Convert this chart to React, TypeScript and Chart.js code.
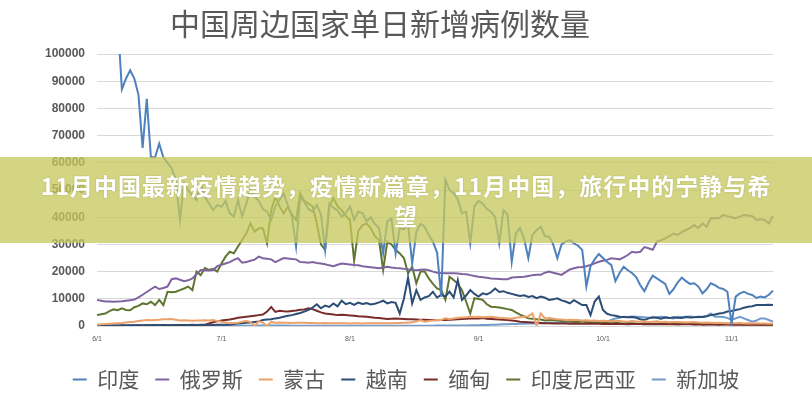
import React, { useEffect, useRef } from "react";
import { Chart, registerables } from "chart.js";

Chart.register(...registerables);

const TITLE = "中国周边国家单日新增病例数量";
const BANNER_LINE1 = "11月中国最新疫情趋势，疫情新篇章，11月中国，旅行中的宁静与希";
const BANNER_LINE2 = "望";

const MONTHS = [6, 7, 8, 9, 10, 11];
const MONTH_DAYS = [30, 31, 31, 30, 31, 11];

const Y_MIN = 0;
const Y_MAX = 100000;
const Y_STEP = 10000;

const SERIES_NAMES = ["印度", "俄罗斯", "蒙古", "越南", "缅甸", "印度尼西亚", "新加坡"];
const SERIES_COLORS = ["#4f81bd", "#8064a2", "#eba26c", "#2c4d75", "#772c2a", "#5f7530", "#729aca"];

const INDIA = [
  128000, 132000, 134000, 120000, 114000, 112000, 87000, 91000, 94000, 91000,
  85000, 65500, 83500, 62000, 62000, 67000, 62000, 60000, 58000, 54000,
  39000, 52500, 50000, 48000, 46300, 52500, 47500, 45000, 42600, 44500,
  43800, 46000, 41500, 40200, 46300, 40200, 45000, 50000, 47500, 46000,
  43000, 42000, 39000, 44000, 46300, 48800, 44500, 40200, 29200, 47500,
  45500, 43000, 42000, 44500, 41000, 28000, 45000, 43500, 42500, 40200,
  41500, 44000, 39000, 42000, 41500, 38500, 40000, 37500, 36000, 26700,
  38500, 39500, 26700, 36000, 35500, 37500, 23000, 34500, 37500, 36500,
  33500, 31000, 27000, 10800, 53700, 50000, 48800, 46500, 41400, 42000,
  30400, 44000, 46000, 45000, 43000, 42000, 40000, 30400, 42600, 41000,
  23600, 34000, 36000, 32000, 24900, 33500, 35300, 36500, 33000, 32900,
  30000, 24900, 30000, 31000, 31600, 30400, 29500, 28000, 14500, 22000,
  24500, 26500, 25000, 23500, 22500, 16500, 19500, 21800, 20500, 19500,
  18000, 15000, 12800, 16000, 18500, 17500, 16500, 15500, 11800, 13500,
  16000, 17800, 16500, 15500, 15700, 14500, 12000, 13500, 15700, 15000,
  14000, 13600, 12600, 800, 10800, 12000, 12600, 11800, 11400, 10300,
  10800, 10500, 11500, 13000,
];

const RUSSIA = [
  9600, 9300, 9000, 9000, 8900, 9000, 9100, 9300, 9500, 9700,
  10500, 11500, 12500, 13500, 14500, 13600, 14000, 14500, 17200, 17500,
  17000, 16500, 16800, 17500, 19000, 20600, 20500, 20400, 20600, 22000,
  22500, 23000, 23500, 24300, 24900, 23300, 23500, 24000, 24400, 25500,
  24900, 24700, 24500, 23500, 24200, 25000, 24800, 24600, 24500, 23500,
  23400, 23300, 23500, 23200, 23000, 22700, 22300, 22000, 22500, 23000,
  22800, 22600, 22400, 22300, 22000, 21800, 21600, 21400, 21200, 21500,
  21800, 21500, 21300, 21200, 21000, 20800, 20600, 20500, 20700, 20800,
  20500, 20000, 19600, 19500, 19400, 19400, 19400, 19300, 19100, 19000,
  18700, 18400, 18100, 17900, 17700, 17500, 17400, 17300, 17200, 17200,
  17800, 17900, 18000, 18100, 18400, 18700, 18800, 18800, 19600, 20000,
  19600, 19200, 18800, 19800, 20800, 21200, 21600, 21700, 22000, 22400,
  23000, 23600, 24000, 24300, 24900, 24700, 24500, 25200, 26100, 27300,
  27000, 27300, 29000, 28600, 28000, 31000, 31500, 32200, 33000, 34000,
  33500, 34500, 35300, 36000, 37100, 36000, 37700, 36500, 39600, 39600,
  39700, 40800, 40400, 40000, 39600, 40200, 40800, 40600, 40400, 39000,
  39200, 39000, 37700, 40400,
];

const MONGOLIA = [
  500, 600, 700, 800, 900, 1000, 1100, 1300, 1500, 1600,
  1800, 2000, 2200, 2100, 2200, 2300, 2500, 2500, 2600, 2300,
  2000, 2100, 2000, 1900, 2000, 2000, 2100, 2000, 2200, 1800,
  1600, 1300, 1000, 1100, 1200, 1600, 1800, 1500, 0, 1800,
  1200, 0, 1500, 1200, 1300, 1200, 1200, 1100, 1200, 1200,
  1200, 1100, 1100, 1000, 1000, 1100, 1000, 1000, 1000, 1000,
  1000, 950, 1000, 1000, 950, 1000, 1000, 1000, 1050, 1000,
  1000, 1000, 1100, 1100, 1200, 1200, 1400, 1600, 2200, 1600,
  1800, 2000, 2200, 2200, 2800, 2600, 2800, 3000, 3100, 3200,
  3400, 3300, 3400, 3200, 3300, 3400, 3200, 3000, 2900, 2800,
  2800, 3000, 3200, 3400, 3600, 4600, 0, 4600, 2800, 2900,
  2700, 2500, 2400, 2200, 2300, 2200, 2200, 2000, 2100, 1900,
  2000, 1800, 1900, 1800, 1700, 1900, 1800, 1700, 1600, 1800,
  1700, 1600, 1700, 1500, 1600, 1700, 1500, 1600, 1400, 1500,
  1500, 1400, 1300, 1400, 1500, 1300, 1200, 1300, 1200, 1100,
  1200, 1100, 1000, 1100, 1000, 1100, 900, 1000, 900, 1000,
  900, 900, 800, 900,
];

const VIETNAM = [
  100, 150, 100, 200, 150, 200, 250, 200, 300, 250,
  250, 300, 250, 300, 350, 300, 350, 300, 250, 300,
  250, 300, 350, 300, 350, 400, 350, 300, 400, 450,
  500, 450, 500, 700, 900, 1000, 1200, 1300, 1500, 1700,
  2200, 2400, 2500, 2800, 3000, 3400, 3800, 4000, 4400, 4800,
  5300, 5900, 6800, 8000, 6500, 7500, 7000, 8300, 7200, 9300,
  8000, 8500, 7800, 8600, 8100, 8400, 7900, 8200, 8700, 9300,
  8300, 8800, 8500, 4600, 10000, 17800, 8300, 13200, 9600, 10500,
  11000, 12600, 10400, 11500, 10800, 12600, 10500, 16900, 9600, 11200,
  13200, 11800, 10800, 12000, 11600, 12400, 13800, 12500, 12800, 12200,
  11800, 11400, 11000, 11300, 10700, 11000, 10200, 10800, 10400, 9600,
  9800, 10200, 9400, 9000, 8300, 9500, 8600, 7700, 7700, 4000,
  9000, 10800, 5900, 4500, 4000, 3800, 3400, 3300, 3200, 3300,
  3000, 2500, 2200, 2800, 3200, 3000, 2700, 3100, 2900, 3200,
  3000, 2900, 3300, 3100, 3200, 3400, 3300, 3600, 4000, 4200,
  4600, 4800, 5300, 5500, 5900, 6200, 6700, 7100, 7300, 7700,
  7700, 7700, 7800, 7700,
];

const MYANMAR = [
  100, 100, 120, 100, 150, 130, 150, 200, 180, 200,
  250, 220, 250, 300, 280, 300, 350, 320, 300, 350,
  400, 350, 380, 420, 400, 450, 500, 900, 1400, 1700,
  2000, 2200, 2400, 2700, 3000, 3200, 3400, 3600, 3800, 4000,
  4200, 5300, 7000, 5200, 5600, 5400, 5300, 5500, 5700, 6000,
  6100, 6500, 6200, 5600, 5000, 4600, 4400, 4200, 4000, 4100,
  4000, 3900, 3800, 3600, 3500, 3400, 3200, 3000, 2900, 2800,
  2600, 2700, 2800, 2700, 2600, 2500, 2500, 2400, 2300, 2300,
  2200, 2200, 2100, 2200, 2200, 2300, 2400, 2500, 2600, 2700,
  2800, 2800, 2800, 2900, 2700, 2600, 2500, 2400, 2300, 2200,
  2000, 1800, 1600, 1500, 1400, 1300, 1200, 1100, 1000, 1000,
  950, 900, 950, 900, 850, 900, 800, 850, 800, 900,
  850, 800, 750, 800, 700, 750, 800, 700, 650, 700,
  750, 700, 650, 700, 600, 650, 700, 600, 650, 600,
  550, 600, 650, 600, 550, 600, 500, 550, 600, 550,
  500, 550, 600, 500, 550, 500, 450, 500, 550, 500,
  450, 500, 550, 500,
];

const INDONESIA = [
  4000, 4300, 4600, 5500, 6100, 5800, 6500, 5900, 5800, 6900,
  7400, 8300, 8000, 8900, 7700, 9600, 7700, 12600, 12400, 12600,
  13200, 13800, 14500, 13200, 20000, 18700, 21300, 20600, 21000, 20000,
  23000, 25500, 27300, 26700, 29200, 31600, 34000, 37700, 34700, 35900,
  35900, 30400, 42600, 47500, 44000, 41400, 43800, 41000, 39000, 48800,
  46000, 45000, 44000, 37700, 30000, 28000, 44000, 47000, 44000, 42600,
  40500, 39000, 24000, 35000, 37000, 37700, 36000, 33000, 31600, 20600,
  31000, 30000, 28000, 26700, 25000, 19400, 21800, 15700, 20000, 20000,
  17500, 15500, 13800, 13200, 9600, 18100, 16900, 15500, 13200, 9000,
  4600, 10200, 9900, 9600, 8000, 7100, 7000, 6800, 6500, 6200,
  5900, 5000, 4200, 3500, 2800, 2700, 2500, 2400, 2000, 2100,
  2200, 2000, 1800, 1900, 1700, 1600, 1500, 1800, 1400, 1300,
  1200, 1400, 1300, 1200, 1100, 1200, 1000, 900, 1100, 1000,
  900, 850, 1000, 950, 800, 900, 850, 800, 750, 850,
  800, 700, 750, 800, 650, 700, 750, 600, 650, 700,
  600, 650, 600, 550, 600, 650, 500, 550, 600, 500,
  450, 550, 500, 450,
];

const SINGAPORE = [
  20, 15, 25, 20, 30, 25, 20, 15, 25, 20,
  15, 20, 25, 15, 20, 20, 15, 25, 20, 25,
  30, 20, 25, 20, 30, 25, 20, 25, 20, 30,
  20, 25, 30, 40, 50, 60, 80, 100, 120, 150,
  170, 180, 190, 170, 160, 150, 140, 130, 120, 110,
  100, 90, 100, 110, 100, 90, 80, 90, 100, 110,
  110, 120, 100, 90, 80, 70, 60, 70, 80, 90,
  80, 70, 60, 80, 90, 100, 110, 120, 100, 110,
  120, 130, 140, 150, 160, 170, 180, 190, 200, 220,
  250, 280, 300, 350, 400, 450, 500, 550, 600, 650,
  700, 750, 800, 850, 900, 950, 1000, 1000, 1050, 1100,
  1200, 1300, 1400, 1450, 1550, 1600, 1650, 1700, 1600, 1650,
  1700, 1800, 1650, 1600, 2200, 2800, 3000, 3400, 3300, 3500,
  3400, 3300, 3200, 3000, 3000, 3200, 3400, 3300, 3000, 2800,
  3400, 3300, 3400, 3500, 3300, 3200, 3400, 3600, 4600, 3400,
  3400, 3300, 3000, 2200, 2800, 3400, 2800, 2200, 1600, 2000,
  2800, 2800, 2200, 1600,
];

const SERIES_VALUES = [INDIA, RUSSIA, MONGOLIA, VIETNAM, MYANMAR, INDONESIA, SINGAPORE];

function buildDates(): string[] {
  const out: string[] = [];
  MONTHS.forEach((m, i) => {
    for (let d = 1; d <= MONTH_DAYS[i]; d++) out.push(`${m}/${d}`);
  });
  return out;
}
const DATES = buildDates();

const CJK = '"Noto Sans CJK SC", "Noto Sans", sans-serif';

const titlePlugin = {
  id: "customTitle",
  afterDraw(chart: any) {
    const ctx = chart.ctx;
    ctx.save();
    ctx.font = `30px ${CJK}`;
    ctx.fillStyle = "#595959";
    ctx.textAlign = "center";
    ctx.textBaseline = "middle";
    ctx.fillText(TITLE, 380, 24);
    ctx.restore();
  },
};

export default function App() {
  const canvasRef = useRef<HTMLCanvasElement | null>(null);

  useEffect(() => {
    if (!canvasRef.current) return;
    const chart = new Chart(canvasRef.current, {
      type: "line",
      data: {
        labels: DATES,
        datasets: SERIES_NAMES.map((name, i) => ({
          label: name,
          data: SERIES_VALUES[i],
          borderColor: SERIES_COLORS[i],
          backgroundColor: SERIES_COLORS[i],
          borderWidth: 2,
          pointRadius: 0,
          tension: 0,
          fill: false,
        })),
      },
      options: {
        animation: false,
        responsive: false,
        devicePixelRatio: 1,
        layout: { padding: { top: 54, left: 0, right: 0, bottom: 0 } },
        plugins: {
          title: { display: false },
          tooltip: { enabled: false },
          legend: {
            position: "bottom",
            labels: {
              usePointStyle: true,
              pointStyle: "line",
              pointStyleWidth: 14,
              padding: 16,
              color: "#595959",
              font: { family: CJK, size: 21 },
            },
          },
        },
        scales: {
          x: {
            type: "category",
            offset: false,
            grid: { display: false, drawTicks: false },
            border: { display: false },
            ticks: {
              autoSkip: false,
              maxRotation: 0,
              minRotation: 0,
              padding: 9,
              color: "#595959",
              font: { family: "Liberation Sans", size: 7 },
              callback: (_v: any, i: number) => (DATES[i].endsWith("/1") ? DATES[i] : null),
            },
            afterFit: (s: any) => {
              s.height = 27;
            },
          },
          y: {
            min: Y_MIN,
            max: Y_MAX,
            grid: { color: "#d9d9d9", lineWidth: 1, drawTicks: false },
            border: { display: false },
            ticks: {
              stepSize: Y_STEP,
              padding: 12,
              color: "#595959",
              font: { family: "Liberation Sans", size: 12, weight: "bold" },
              callback: (v: any) => String(v),
            },
            afterFit: (s: any) => {
              s.width = 97;
            },
          },
          yRight: {
            position: "right",
            display: true,
            grid: { display: false, drawTicks: false },
            border: { display: false },
            ticks: { display: false },
            afterFit: (s: any) => {
              s.width = 39;
            },
          },
        },
      } as any,
      plugins: [titlePlugin],
    });
    return () => chart.destroy();
  }, []);

  return (
    <div
      style={{
        position: "fixed",
        left: 0,
        top: 0,
        width: 812,
        height: 400,
        background: "#ffffff",
        overflow: "hidden",
      }}
    >
      <canvas ref={canvasRef} width={812} height={400} style={{ display: "block" }} />
      <div
        style={{
          position: "absolute",
          left: 0,
          top: 157,
          width: 812,
          height: 86,
          background: "rgba(197,200,92,0.76)",
          display: "flex",
          flexDirection: "column",
          alignItems: "center",
          justifyContent: "center",
          color: "#ffffff",
          fontFamily: CJK,
          fontWeight: 700,
          fontSize: 23,
          lineHeight: "30px",
          letterSpacing: 1,
          textAlign: "center",
          textShadow: "0 0 2px rgba(110,110,50,0.35)",
        }}
      >
        <div style={{ whiteSpace: "nowrap" }}>{BANNER_LINE1}</div>
        <div>{BANNER_LINE2}</div>
      </div>
    </div>
  );
}
